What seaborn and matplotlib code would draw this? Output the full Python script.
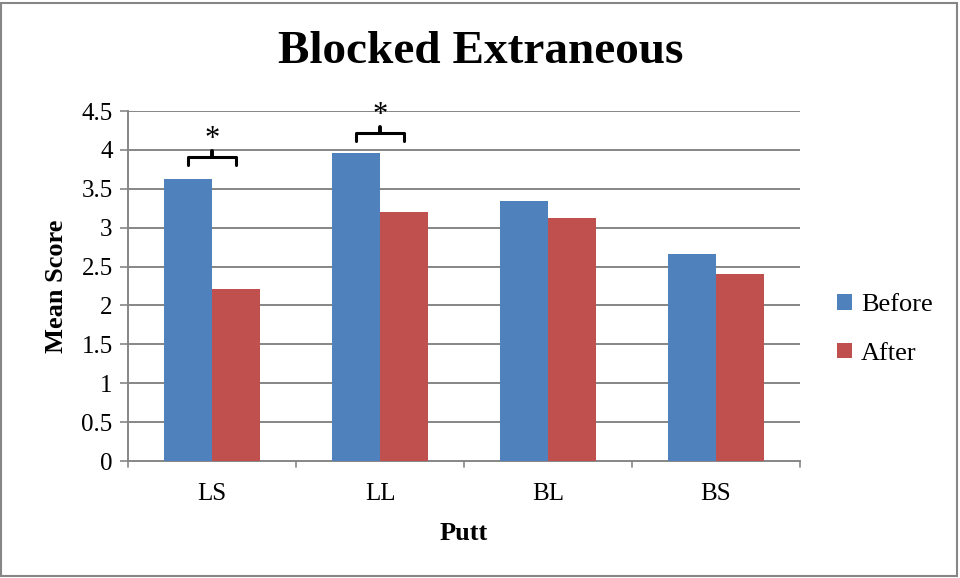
import matplotlib
matplotlib.use("Agg")
import matplotlib.pyplot as plt
import seaborn as sns
import pandas as pd
from matplotlib.patches import Rectangle

categories = ["LS", "LL", "BL", "BS"]
before = [3.63, 3.96, 3.34, 2.66]
after = [2.21, 3.20, 3.12, 2.41]
series = ["Before", "After"]
colors = ["#4F81BD", "#C0504D"]
yticks = [0, 0.5, 1, 1.5, 2, 2.5, 3, 3.5, 4, 4.5]
ytick_labels = ["0", "0.5", "1", "1.5", "2", "2.5", "3", "3.5", "4", "4.5"]
# significance brackets: (category index, bracket baseline y)
sig_brackets = [(0, 3.91), (1, 4.22)]

df = pd.DataFrame({
    "Putt": categories * 2,
    "Score": before + after,
    "Series": ["Before"] * 4 + ["After"] * 4,
})

sns.set_theme(style="white")
plt.rcParams["font.family"] = ["Liberation Serif", "DejaVu Serif"]
plt.rcParams["text.color"] = "black"
plt.rcParams["axes.labelcolor"] = "black"
plt.rcParams["xtick.color"] = "black"
plt.rcParams["ytick.color"] = "black"

fig = plt.figure(figsize=(9.6, 5.78), dpi=100)
ax = fig.add_axes([128 / 960, 1 - 461 / 578, 672 / 960, 350 / 578])

sns.barplot(data=df, x="Putt", y="Score", hue="Series", hue_order=series,
            palette=colors, width=0.572, gap=0, saturation=1, ax=ax,
            edgecolor="none", linewidth=0, errorbar=None, zorder=3)

ax.set_ylim(0, 4.5)
ax.set_xlim(-0.5, 3.5)
ax.set_yticks(yticks)
ax.set_yticklabels(ytick_labels, fontsize=18)
ax.set_xticks(range(len(categories)))
ax.set_xticklabels(categories, fontsize=18)
ax.tick_params(axis="x", length=0, pad=16, labelcolor="black")
ax.tick_params(axis="y", length=6, width=1.2, color="#868686", left=True, pad=5,
               direction="out", labelcolor="black")
for y in yticks[1:]:
    ax.axhline(y, color="#868686", lw=1.4, zorder=1)
for x in [-0.5, 0.5, 1.5, 2.5, 3.5]:
    ax.plot([x, x], [0, -0.08], color="#868686", lw=1.2, clip_on=False)
for s in ["top", "right"]:
    ax.spines[s].set_visible(False)
for s in ["left", "bottom"]:
    ax.spines[s].set_color("#868686")
    ax.spines[s].set_linewidth(1.4)

ax.set_ylabel("Mean Score", fontsize=19, fontweight="bold", labelpad=10, color="black")
ax.set_xlabel("Putt", fontsize=19, fontweight="bold", labelpad=12, color="black")

# brackets
for ci, yb in sig_brackets:
    hw = 0.14
    ax.plot([ci - hw, ci - hw, ci + hw, ci + hw], [yb - 0.11, yb, yb, yb - 0.11],
            color="black", lw=2.2, solid_joinstyle="round", zorder=5, clip_on=False)
    ax.plot([ci, ci], [yb, yb + 0.08], color="black", lw=2.8, zorder=5, clip_on=False)
    ax.text(ci, yb + 0.22, "*", ha="center", va="center", fontsize=22, zorder=5)

fig.text(481 / 960, 1 - 52 / 578, "Blocked Extraneous", ha="center", va="center",
         fontsize=34, fontweight="bold", color="black")

leg = ax.legend(loc="center left", bbox_to_anchor=(1.02, 0.376), frameon=False,
                fontsize=19, handlelength=0.55, handleheight=0.55,
                labelspacing=1.0, handletextpad=0.35)
for t in leg.get_texts():
    t.set_color("black")

fig.patches.append(Rectangle((1 / 960, 2 / 578), 956 / 960, 573 / 578, transform=fig.transFigure,
                             fill=False, edgecolor="#868686", lw=1.5))

fig.savefig("out.png", dpi=100)
